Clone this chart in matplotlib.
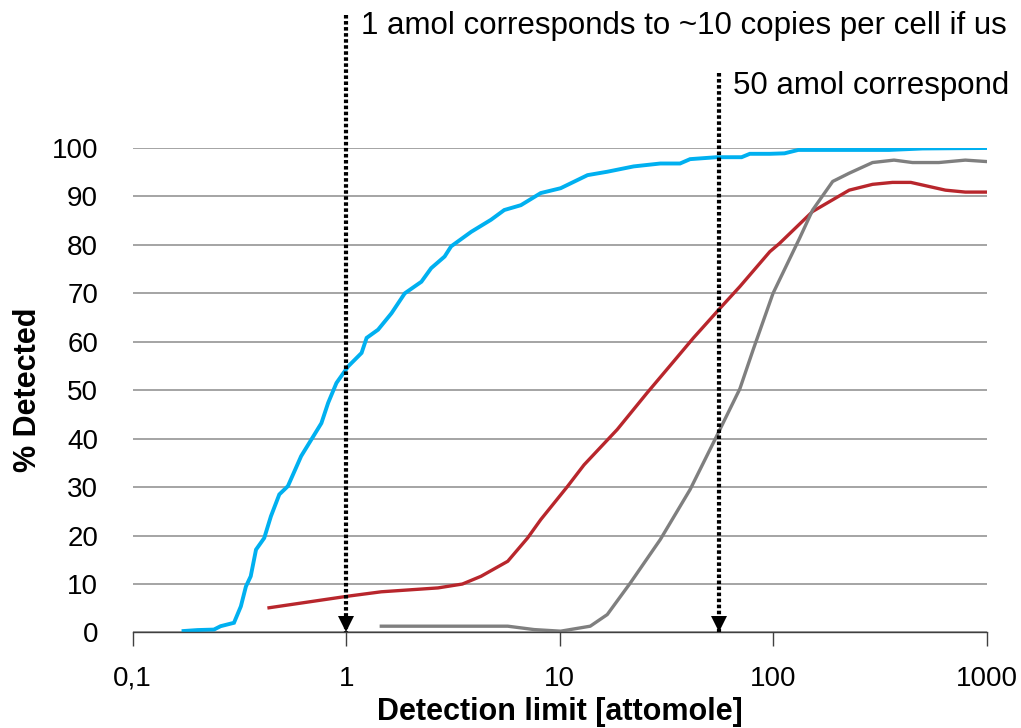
import matplotlib
matplotlib.use("Agg")
import matplotlib.pyplot as plt
from matplotlib.transforms import offset_copy

plt.rcParams['font.family'] = ['Liberation Sans', 'DejaVu Sans']

# ---- data ----
blue_x = [0.173, 0.201, 0.240, 0.258, 0.298, 0.321, 0.339, 0.357, 0.378, 0.413,
          0.444, 0.486, 0.533, 0.615, 0.686, 0.765, 0.823, 0.900, 1.02, 1.18,
          1.246, 1.41, 1.63, 1.88, 2.25, 2.50, 2.89, 3.10, 3.85, 4.77, 5.50,
          6.58, 8.15, 10.1, 13.5, 16.7, 22.2, 29.6, 36.6, 40.8, 54.3, 71.1,
          77.7, 96.4, 113, 131, 204, 349, 500, 1000]
blue_y = [0.3, 0.5, 0.6, 1.3, 2.0, 5.4, 9.5, 11.6, 17.1, 19.5,
          24.0, 28.5, 30.2, 36.4, 39.8, 43.2, 47.4, 51.5, 54.9, 57.7,
          60.8, 62.5, 65.9, 70.0, 72.4, 75.2, 77.6, 79.7, 82.7, 85.2, 87.2,
          88.2, 90.7, 91.7, 94.4, 95.1, 96.2, 96.8, 96.8, 97.7, 98.1, 98.1,
          98.8, 98.8, 98.9, 99.6, 99.6, 99.6, 99.9, 100.0]

red_x = [0.435, 1.02, 1.46, 2.69, 3.50, 4.28, 5.71, 7.07, 8.15, 10.9, 13.0,
         18.6, 25.6, 34.1, 42.3, 56.3, 69.8, 96.4, 107, 153, 227, 292, 362,
         441, 641, 794, 1000]
red_y = [5.1, 7.5, 8.4, 9.2, 10.0, 11.6, 14.7, 19.5, 23.3, 30.2, 34.6,
         41.9, 49.4, 55.9, 60.8, 66.9, 71.4, 78.6, 80.3, 86.9, 91.3, 92.5, 92.9,
         92.9, 91.3, 90.9, 90.9]

gray_x = [1.46, 3.45, 5.71, 7.59, 10.1, 13.9, 16.7, 21.4, 29.6, 40.8, 54.3,
          69.8, 80.6, 99.8, 133, 153, 190, 227, 292, 368, 449, 597, 794, 1000]
gray_y = [1.3, 1.3, 1.3, 0.6, 0.27, 1.3, 3.7, 10.2, 19.2, 29.5, 40.5,
          50.3, 58.4, 70.0, 81.4, 87.2, 93.1, 94.8, 97.0, 97.5, 97.0, 97.0, 97.5, 97.2]

x_ticks = [0.1, 1, 10, 100, 1000]
x_tick_labels = ['0,1', '1', '10', '100', '1000']
y_ticks = list(range(0, 101, 10))

arrow_x = [1, 55.5]
arrow_top = [1.275, 1.155]           # axes fraction
note_y = [1.251, 1.128]              # axes fraction
notes = ['1 amol corresponds to ~10 copies per cell if us',
         '50 amol correspond']

# ---- figure ----
fig = plt.figure(figsize=(10.21, 7.28), dpi=100)
ax = fig.add_axes([0.130, 0.1312, 0.8364, 0.6655])

ax.plot(blue_x, blue_y, color='#00B0F0', lw=2.8, solid_joinstyle='miter', zorder=4)
ax.plot(red_x, red_y, color='#B8262C', lw=2.4, zorder=3)
ax.plot(gray_x, gray_y, color='#7F7F7F', lw=2.4, zorder=3)

ax.set_xscale('log')
ax.set_xlim(0.1, 1000)
ax.set_ylim(0, 100)
ax.set_xticks(x_ticks)
ax.xaxis.set_minor_locator(matplotlib.ticker.NullLocator())
ax.set_xticklabels(x_tick_labels)
ax.set_yticks(y_ticks)

ax.tick_params(axis='x', direction='out', length=10, width=1.0, color='#404040',
               labelsize=20, pad=14)
ax.tick_params(axis='y', length=0, labelsize=20, pad=25)

ax.grid(axis='y', color='#8C8C8C', lw=1.1)
ax.set_axisbelow(True)
for s in ['left', 'right', 'top']:
    ax.spines[s].set_visible(False)
ax.spines['bottom'].set_color('#404040')
ax.spines['bottom'].set_linewidth(1.0)
ax.spines['bottom'].set_zorder(5)

ax.set_xlabel('Detection limit [attomole]', fontsize=22, fontweight='bold', labelpad=4)
ax.set_ylabel('% Detected', fontsize=22, fontweight='bold', labelpad=6)

# arrows
head_tr = offset_copy(ax.transData, fig=fig, y=8, units='dots')
for xa, top, ny, txt in zip(arrow_x, arrow_top, note_y, notes):
    ax.plot([xa, xa], [top, 0.0], transform=ax.get_xaxis_transform(),
            color='black', lw=3.0, linestyle=(0, (0.85, 0.6)),
            dash_capstyle='butt', clip_on=False, zorder=6)
    ax.plot([xa], [0], marker='v', markersize=12, color='black',
            transform=head_tr, clip_on=False, zorder=7, markeredgewidth=0)
    ax.annotate(txt, xy=(xa, ny), xycoords=('data', 'axes fraction'),
                xytext=(10.5, 0), textcoords='offset points', va='center',
                ha='left', fontsize=22.5, annotation_clip=False)

fig.savefig('out.png', dpi=100)
